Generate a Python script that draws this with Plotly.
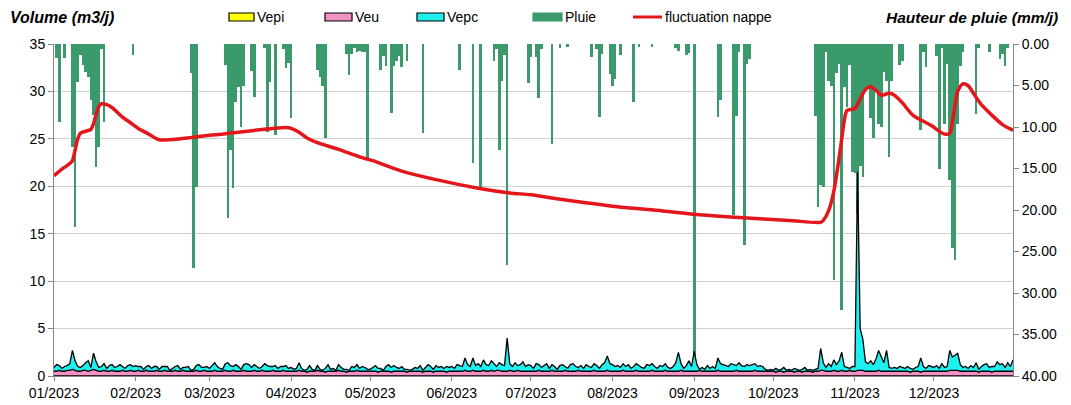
import pandas as pd
import plotly.graph_objects as go

# --- data (day index = days since 01/01/2023) ---
year_start = pd.Timestamp("2023-01-01")
days = pd.date_range("2023-01-01", "2023-12-31", freq="D")

# daily rain (mm/j), only the rainy days
rain_day = [1, 2, 4, 7, 8, 9, 10, 11, 12, 13, 14, 15, 16, 17, 18, 19, 30, 52, 53, 54,
            65, 66, 67, 68, 69, 70, 71, 72, 75, 76, 80, 81, 82, 84, 87, 88, 89, 90,
            100, 101, 102, 103, 111, 112, 113, 114, 115, 116, 117, 118, 119,
            124, 125, 126, 128, 129, 130, 131, 132, 134, 140, 154, 159, 162,
            167, 168, 169, 170, 171, 172, 180, 181, 183, 184, 185, 189, 192, 195,
            204, 206, 207, 208, 211, 212, 213, 215, 220, 222, 227, 236, 237, 240, 241,
            243, 252, 253, 258, 259, 260, 262, 263, 264,
            289, 290, 291, 292, 293, 294, 295, 296, 297, 298, 299, 300, 301, 302,
            303, 304, 305, 306, 307, 308, 309, 310, 311, 312, 313, 314, 315, 316,
            317, 318, 321, 322, 329, 330, 331, 335, 336, 337, 338, 339, 340, 341,
            342, 343, 344, 345, 350, 351, 355, 359, 360, 361, 362]
rain_mm = [1.7, 9.4, 1.7, 12.4, 22.0, 4.6, 1.3, 2.5, 3.4, 4.0, 6.7, 8.5, 14.8, 12.4, 0.6, 9.4, 1.3, 3.5, 27.0, 17.2,
           2.5, 21.0, 12.8, 17.3, 7.0, 5.2, 10.0, 5.0, 3.2, 6.4, 0.5, 10.6, 4.6, 11.0, 0.6, 2.9, 2.3, 8.9,
           3.1, 4.0, 5.0, 11.3, 1.2, 3.7, 1.2, 0.5, 1.0, 0.8, 1.0, 1.0, 13.7,
           3.1, 1.5, 2.6, 8.3, 2.6, 2.1, 1.5, 2.8, 2.1, 10.7, 3.1, 14.3, 17.2,
           2.1, 0.6, 12.8, 4.4, 1.3, 26.6, 4.7, 1.6, 1.6, 6.5, 0.6, 12.0, 0.5, 0.4,
           1.6, 0.6, 8.8, 1.2, 3.6, 5.0, 4.2, 1.3, 7.0, 0.4, 0.4, 0.5, 0.8, 1.3, 1.1,
           39.0, 8.8, 6.8, 20.6, 8.7, 1.0, 24.2, 2.4, 1.8,
           8.7, 19.6, 17.0, 17.2, 1.0, 4.5, 5.0, 28.4, 3.5, 2.4, 32.0, 5.2, 7.6, 2.5,
           15.4, 15.6, 20.4, 14.7, 16.0, 5.5, 5.2, 8.9, 11.3, 5.5, 9.6, 10.0, 3.4, 4.4,
           13.6, 4.4, 2.5, 2.0, 10.4, 1.0, 2.8, 1.5, 15.0, 0.5, 9.6, 2.4, 16.4, 24.6,
           26.0, 9.6, 2.6, 1.0, 8.4, 0.5, 1.0, 1.8, 1.2, 2.6, 0.5]

# water-table fluctuation (left axis), key points
nappe_day = [0, 3, 6, 7, 8, 9, 10, 12, 14, 15, 16, 17, 18, 20, 22, 24, 26, 29, 32, 36, 40,
             60, 88, 90, 93, 96, 100, 108, 116, 121, 132, 145, 161, 173, 181, 193, 212,
             231, 245, 260, 279, 291, 292, 294, 296, 298, 299, 300, 301, 304, 306, 308,
             310, 312, 314, 317, 319, 322, 326, 333, 338, 340, 341, 342, 343, 345, 347,
             349, 352, 356, 360, 364]
nappe_val = [21.1, 21.8, 22.4, 22.7, 23.8, 25.0, 25.6, 25.8, 26.0, 26.6, 27.6, 28.4, 28.7, 28.6,
             28.3, 27.8, 27.3, 26.7, 26.1, 25.5, 24.9,
             25.4, 26.2, 26.1, 25.7, 25.1, 24.6, 23.9, 23.1, 22.7, 21.6, 20.7, 19.8, 19.3, 19.1,
             18.6, 17.9, 17.4, 17.0, 16.7, 16.4, 16.2, 16.4, 17.4, 19.5, 23.0, 25.0, 27.0, 28.0,
             28.2, 29.2, 30.2, 30.5, 30.1, 29.6, 29.8, 29.6, 28.8, 27.5, 26.4, 25.5, 25.6, 26.8,
             28.5, 30.0, 30.8, 30.6, 29.8, 28.6, 27.5, 26.5, 25.9]

# daily volumes (m3/j), stacked: Vepi (reads as zero), Veu, Vepc
vepi_m3 = [0.0] * len(days)
veu_m3 = [
    # jan
    0.5, 0.5, 0.6, 0.5, 0.5, 0.6, 0.6, 0.7, 0.6, 0.5, 0.5, 0.6, 0.6, 0.5, 0.6, 0.7, 0.6, 0.5, 0.5, 0.6,
    0.5, 0.5, 0.6, 0.5, 0.5, 0.5, 0.6, 0.5, 0.5, 0.6, 0.5,
    # feb
    0.5, 0.6, 0.5, 0.5, 0.6, 0.5, 0.5, 0.5, 0.6, 0.5, 0.5, 0.6, 0.5, 0.5, 0.5, 0.6, 0.5, 0.5, 0.6, 0.5,
    0.5, 0.5, 0.5, 0.6, 0.5, 0.5, 0.6, 0.5,
    # mar
    0.5, 0.5, 0.6, 0.5, 0.5, 0.5, 0.6, 0.5, 0.5, 0.6, 0.5, 0.5, 0.5, 0.6, 0.5, 0.5, 0.5, 0.6, 0.5, 0.5,
    0.6, 0.5, 0.5, 0.5, 0.6, 0.5, 0.5, 0.5, 0.6, 0.5, 0.5,
    # apr
    0.5, 0.5, 0.5, 0.6, 0.5, 0.5, 0.4, 0.5, 0.5, 0.5, 0.6, 0.5, 0.5, 0.4, 0.5, 0.5, 0.5, 0.5, 0.6, 0.5,
    0.5, 0.4, 0.5, 0.5, 0.5, 0.6, 0.5, 0.5, 0.5, 0.5,
    # may
    0.5, 0.5, 0.5, 0.4, 0.5, 0.5, 0.5, 0.5, 0.4, 0.5, 0.5, 0.5, 0.5, 0.5, 0.4, 0.5, 0.5, 0.5, 0.5, 0.5,
    0.4, 0.5, 0.5, 0.5, 0.4, 0.5, 0.5, 0.5, 0.5, 0.4, 0.5,
    # jun
    0.5, 0.5, 0.5, 0.5, 0.5, 0.6, 0.5, 0.5, 0.6, 0.5, 0.5, 0.5, 0.6, 0.5, 0.5, 0.6, 0.5, 0.6, 0.6, 0.5,
    0.5, 0.5, 0.6, 0.5, 0.5, 0.6, 0.5, 0.5, 0.5, 0.5,
    # jul
    0.5, 0.5, 0.5, 0.6, 0.5, 0.5, 0.5, 0.5, 0.6, 0.5, 0.5, 0.5, 0.5, 0.6, 0.5, 0.5, 0.5, 0.5, 0.6, 0.5,
    0.5, 0.5, 0.5, 0.5, 0.6, 0.5, 0.5, 0.5, 0.5, 0.6, 0.5,
    # aug
    0.5, 0.5, 0.5, 0.5, 0.6, 0.5, 0.5, 0.5, 0.5, 0.6, 0.5, 0.5, 0.5, 0.5, 0.5, 0.6, 0.5, 0.5, 0.5, 0.5,
    0.6, 0.5, 0.5, 0.5, 0.5, 0.5, 0.6, 0.5, 0.5, 0.5, 0.5,
    # sep
    0.5, 0.5, 0.6, 0.5, 0.5, 0.5, 0.5, 0.5, 0.5, 0.6, 0.5, 0.5, 0.5, 0.5, 0.5, 0.5, 0.6, 0.5, 0.5, 0.5,
    0.5, 0.5, 0.5, 0.6, 0.5, 0.5, 0.5, 0.5, 0.5, 0.5,
    # oct
    0.5, 0.4, 0.5, 0.5, 0.4, 0.5, 0.5, 0.5, 0.4, 0.5, 0.5, 0.4, 0.5, 0.5, 0.5, 0.4, 0.5, 0.5, 0.6, 0.6,
    0.5, 0.5, 0.5, 0.6, 0.5, 0.5, 0.6, 0.5, 0.5, 0.6, 0.5,
    # nov
    0.5, 0.6, 0.6, 0.6, 0.5, 0.5, 0.5, 0.5, 0.5, 0.6, 0.5, 0.5, 0.5, 0.5, 0.5, 0.5, 0.5, 0.5, 0.5, 0.5,
    0.5, 0.4, 0.5, 0.5, 0.5, 0.4, 0.5, 0.5, 0.5, 0.5,
    # dec
    0.5, 0.5, 0.5, 0.5, 0.5, 0.5, 0.6, 0.6, 0.6, 0.6, 0.5, 0.5, 0.5, 0.5, 0.5, 0.5, 0.5, 0.4, 0.5, 0.5,
    0.5, 0.5, 0.4, 0.5, 0.5, 0.5, 0.5, 0.5, 0.5, 0.5, 0.5,
]
vepc_m3 = [
    # jan
    0.4, 0.7, 0.5, 0.3, 0.5, 0.5, 0.7, 2.0, 1.0, 0.5, 0.4, 0.5, 0.8, 1.1, 0.3, 1.7, 0.9, 0.4, 0.5, 0.7,
    0.3, 0.6, 0.6, 0.4, 0.5, 0.7, 0.4, 0.3, 0.6, 0.6, 0.5,
    # feb
    0.6, 0.4, 0.5, 0.2, 0.4, 0.6, 0.3, 0.5, 0.4, 0.2, 0.5, 0.4, 0.5, 0.1, 0.3, 0.4, 0.6, 0.2, 0.3, 0.4,
    0.5, 0.1, 0.2, 0.5, 0.7, 0.4, 0.3, 0.5,
    # mar
    0.3, 0.6, 0.8, 0.5, 0.3, 0.2, 0.7, 0.9, 0.6, 0.4, 0.7, 0.5, 0.2, 0.6, 0.8, 0.7, 0.4, 0.6, 0.5, 0.3,
    0.4, 0.8, 0.6, 0.5, 0.4, 0.6, 0.3, 0.5, 0.4, 0.6, 0.3,
    # apr
    0.4, 0.2, 0.3, 0.8, 0.3, 0.1, 0.3, 0.6, 0.2, 0.1, 0.5, 0.2, 0.1, 0.4, 0.7, 0.2, 0.3, 0.1, 0.6, 0.4,
    0.2, 0.3, 0.1, 0.5, 0.4, 0.6, 0.3, 0.5, 0.4, 0.2,
    # may
    0.2, 0.4, 0.6, 0.4, 0.3, 0.1, 0.5, 0.7, 0.5, 0.6, 0.4, 0.3, 0.5, 0.2, 0.3, 0.1, 0.2, 0.4, 0.3, 0.6,
    0.2, 0.4, 0.7, 0.5, 0.3, 0.6, 0.4, 0.5, 0.3, 0.6, 0.4,
    # jun
    0.5, 0.3, 0.7, 0.6, 0.5, 1.3, 0.7, 0.5, 1.3, 0.6, 0.8, 0.5, 1.1, 0.7, 0.6, 1.0, 0.8, 0.4, 0.8, 0.7,
    0.6, 3.5, 0.7, 0.5, 0.9, 0.5, 0.7, 1.0, 0.5, 0.7,
    # jul
    0.6, 0.3, 0.8, 0.6, 0.4, 0.6, 0.8, 0.3, 0.6, 0.5, 0.2, 0.6, 0.7, 0.4, 0.3, 0.7, 0.8, 0.5, 0.3, 0.6,
    0.3, 0.7, 0.5, 0.4, 0.7, 0.6, 0.3, 0.7, 0.9, 1.5, 0.8,
    # aug
    0.7, 0.5, 0.6, 0.4, 0.7, 0.5, 0.7, 0.3, 0.5, 0.7, 0.6, 0.4, 0.3, 0.7, 0.6, 0.7, 0.5, 0.3, 0.6, 0.5,
    0.7, 0.4, 0.3, 0.5, 0.9, 2.0, 0.7, 0.3, 0.6, 1.1, 0.5,
    # sep
    2.1, 0.7, 0.1, 0.4, 0.2, 0.6, 0.3, 0.5, 0.3, 1.3, 0.8, 0.7, 0.6, 0.5, 0.8, 0.7, 0.5, 0.9, 0.6, 0.5,
    0.7, 0.6, 0.7, 0.7, 0.5, 0.6, 0.5, 0.2, 0.1, 0.2,
    # oct
    0.1, 0.4, 0.1, 0.2, 0.5, 0.1, 0.2, 0.1, 0.4, 0.2, 0.1, 0.3, 0.4, 0.1, 0.2, 0.2, 0.2, 0.3, 2.3, 0.8,
    0.4, 0.8, 0.5, 1.1, 0.7, 1.1, 1.9, 0.5, 0.4, 0.2, 0.5,
    # nov
    0.5, 20.9, 4.4, 3.3, 1.0, 0.8, 1.1, 0.7, 1.3, 2.1, 1.5, 0.9, 2.2, 0.4, 0.3, 0.4, 0.3, 0.5, 0.4, 0.3,
    0.5, 0.4, 0.2, 0.4, 0.5, 1.5, 0.5, 0.3, 0.6, 0.5,
    # dec
    0.4, 0.6, 0.3, 0.8, 0.4, 0.5, 2.1, 1.4, 1.6, 1.8, 0.7, 0.4, 0.5, 0.3, 0.6, 0.4, 0.9, 0.3, 0.5, 0.7,
    0.8, 0.4, 0.6, 0.5, 1.0, 0.7, 0.8, 0.4, 0.9, 0.5, 1.2,
]

month_ticks = pd.date_range("2023-01-01", "2023-12-01", freq="MS")

rain_dates = year_start + pd.to_timedelta(rain_day, unit="D")
nappe_dates = year_start + pd.to_timedelta(nappe_day, unit="D")

FONT = "Arial, Liberation Sans, sans-serif"
GREEN = "#3a9a6b"
RED = "#e3161b"
fills = {"Vepi": "#ffff00", "Veu": "#f291c3", "Vepc": "#1ef0f0"}

fig = go.Figure()

# rain bars hang from the top, on the reversed right axis (primary y)
fig.add_trace(go.Bar(
    x=rain_dates, y=rain_mm, name="Pluie", yaxis="y",
    marker=dict(color=GREEN, line=dict(width=0)), width=86400000,
))

# stacked volumes on the left axis
for name, vals in [("Vepi", vepi_m3), ("Veu", veu_m3), ("Vepc", vepc_m3)]:
    fig.add_trace(go.Scatter(
        x=days, y=vals, name=name, yaxis="y2", stackgroup="v",
        mode="lines", line=dict(color="black", width=1.3), fillcolor=fills[name],
    ))

fig.add_trace(go.Scatter(
    x=nappe_dates, y=nappe_val, name="fluctuation nappe", yaxis="y2",
    mode="lines", line=dict(color=RED, width=3.5, shape="spline", smoothing=0.8),
))

# the page body has an 8px margin: the figure is shrunk by that much so the
# plot area lands at x 54..1013, y 44..376 of the window
OFF = 8
FIG_W, FIG_H = 1071 - OFF, 405 - OFF
L, T, W, H = 54 - OFF, 44 - OFF, 959, 332
px = lambda x: (x - OFF - L) / W
py = lambda y: (T + H - (y - OFF)) / H

# legend drawn by hand so the swatches are framed boxes like the original
shapes, notes = [], []
legend_items = [("Vepi", 229, 254, fills["Vepi"], "black"),
                ("Veu", 325, 352, fills["Veu"], "black"),
                ("Vepc", 417, 444, fills["Vepc"], "black"),
                ("Pluie", 533, 562, GREEN, GREEN)]
for label, x0, x1, fc, lc in legend_items:
    shapes.append(dict(type="rect", xref="paper", yref="paper",
                       x0=px(x0), x1=px(x1), y0=py(21), y1=py(13),
                       fillcolor=fc, line=dict(color=lc, width=1.2)))
    notes.append(dict(text=label, xref="paper", yref="paper", x=px(x1 + 1), y=py(17),
                      xanchor="left", yanchor="middle", showarrow=False, font=dict(size=14)))
shapes.append(dict(type="line", xref="paper", yref="paper",
                   x0=px(633), x1=px(662), y0=py(17), y1=py(17),
                   line=dict(color=RED, width=3)))
notes.append(dict(text="fluctuation nappe", xref="paper", yref="paper", x=px(663), y=py(17),
                  xanchor="left", yanchor="middle", showarrow=False, font=dict(size=14)))

notes += [
    dict(text="<b><i>Volume (m3/j)</i></b>", xref="paper", yref="paper",
         x=px(8), y=py(17), xanchor="left", yanchor="middle", showarrow=False,
         font=dict(size=16)),
    dict(text="<b><i>Hauteur de pluie (mm/j)</i></b>", xref="paper", yref="paper",
         x=px(1060), y=py(17), xanchor="right", yanchor="middle", showarrow=False,
         font=dict(size=15.5)),
]

fig.update_layout(
    width=FIG_W, height=FIG_H,
    margin=dict(l=L, r=FIG_W - L - W, t=T, b=FIG_H - T - H, autoexpand=False),
    plot_bgcolor="white", paper_bgcolor="white",
    font=dict(family=FONT, size=14, color="black"),
    bargap=0,
    showlegend=False,
    xaxis=dict(
        type="date", range=["2023-01-01", "2023-12-31"],
        tickvals=month_ticks, tickformat="%m/%Y",
        ticks="outside", ticklen=4, tickcolor="#888",
        showline=True, linecolor="#888", showgrid=False, zeroline=False,
    ),
    yaxis=dict(
        side="right", range=[40, 0], tickvals=list(range(0, 41, 5)), tickformat=".2f",
        ticks="outside", ticklen=5, tickcolor="#888",
        showline=True, linecolor="#888", showgrid=False, zeroline=False,
    ),
    yaxis2=dict(
        overlaying="y", side="left", anchor="x", range=[0, 35], dtick=5,
        ticks="outside", ticklen=5, tickcolor="#888",
        showline=True, linecolor="#888",
        showgrid=True, gridcolor="#cfcfcf", gridwidth=1, zeroline=False,
    ),
    yaxis3=dict(
        overlaying="y", side="left", anchor="x", range=[0, 35], tickvals=[5, 15, 25],
        showticklabels=False, ticks="", showline=False,
        showgrid=True, gridcolor="#555", griddash="dot", gridwidth=1, zeroline=False,
    ),
    shapes=shapes,
    annotations=notes,
)

fig.write_html("out.html")
